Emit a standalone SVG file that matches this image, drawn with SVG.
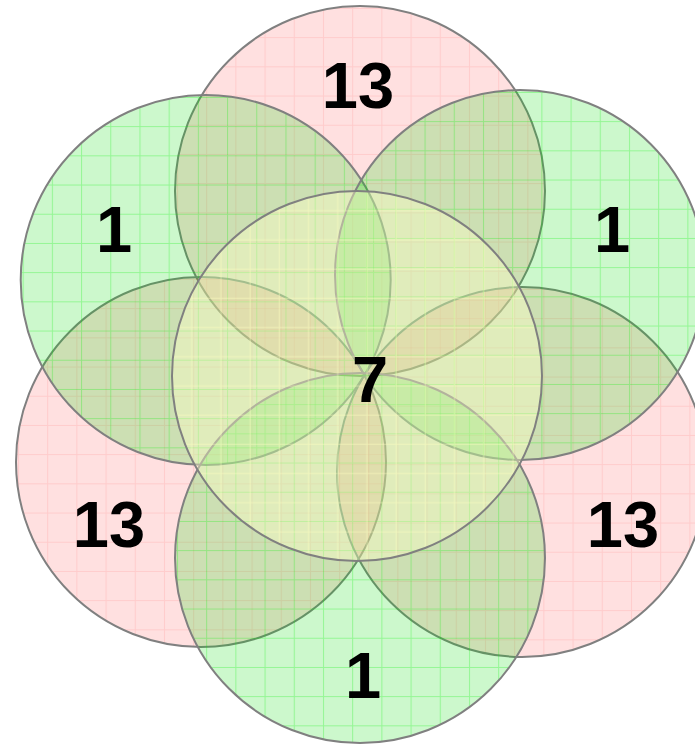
<svg xmlns="http://www.w3.org/2000/svg" width="695" height="744" viewBox="0 0 695 744">
<defs>
<pattern id="gridG" patternUnits="objectBoundingBox" x="0" y="0" width="0.07892" height="0.07892">
<path d="M2.5 0V29.2M0 2.5H29.2" stroke="rgba(0,240,0,0.28)" stroke-width="1" fill="none"/>
</pattern>
<pattern id="gridP" patternUnits="objectBoundingBox" x="0" y="0" width="0.07892" height="0.07892">
<path d="M2.5 0V29.2M0 2.5H29.2" stroke="rgba(255,80,80,0.14)" stroke-width="1" fill="none"/>
</pattern>
<pattern id="gridC" patternUnits="objectBoundingBox" x="0" y="0" width="0.07892" height="0.07892">
<path d="M19.7 0V29.2M0 19.7H29.2" stroke="rgba(255,255,190,0.5)" stroke-width="1" fill="none"/>
</pattern>
</defs>
<style>
.g{fill:rgba(0,220,0,0.2)}
.p{fill:rgba(255,0,0,0.12)}
.c{fill:rgba(255,255,200,0.4)}
.gg{fill:url(#gridG)}
.gp{fill:url(#gridP)}
.gc{fill:url(#gridC)}
.o{fill:none;stroke:#808080;stroke-width:2}
.lbl{font-family:"Liberation Sans",Arial,sans-serif;font-weight:bold;font-size:65px;fill:#000;text-anchor:middle}
</style>
<g id="connectors"/>
<g id="top">
<circle class="p" cx="360" cy="191" r="185"/>
<circle class="gp" cx="360" cy="191" r="185"/>
<circle class="o" cx="360" cy="191" r="185"/>
<text class="lbl" x="358" y="108">13</text>
</g>
<g id="bottom-left">
<circle class="p" cx="201" cy="462" r="185"/>
<circle class="gp" cx="201" cy="462" r="185"/>
<circle class="o" cx="201" cy="462" r="185"/>
<text class="lbl" x="109" y="547">13</text>
</g>
<g id="bottom-right">
<circle class="p" cx="522" cy="472" r="185"/>
<circle class="gp" cx="522" cy="472" r="185"/>
<circle class="o" cx="522" cy="472" r="185"/>
<text class="lbl" x="623" y="547">13</text>
</g>
<g id="top-left">
<circle class="g" cx="205.7" cy="280" r="185"/>
<circle class="gg" cx="205.7" cy="280" r="185"/>
<circle class="o" cx="205.7" cy="280" r="185"/>
<text class="lbl" x="114" y="252">1</text>
</g>
<g id="top-right">
<circle class="g" cx="520" cy="275" r="185"/>
<circle class="gg" cx="520" cy="275" r="185"/>
<circle class="o" cx="520" cy="275" r="185"/>
<text class="lbl" x="612" y="252">1</text>
</g>
<g id="bottom">
<circle class="g" cx="360" cy="558" r="185"/>
<circle class="gg" cx="360" cy="558" r="185"/>
<circle class="o" cx="360" cy="558" r="185"/>
<text class="lbl" x="363" y="698">1</text>
</g>
<g id="center">
<circle class="c" cx="357" cy="376" r="185"/>
<circle class="gc" cx="357" cy="376" r="185"/>
<circle class="o" cx="357" cy="376" r="185"/>
<text class="lbl" x="370" y="402">7</text>
</g>
</svg>
